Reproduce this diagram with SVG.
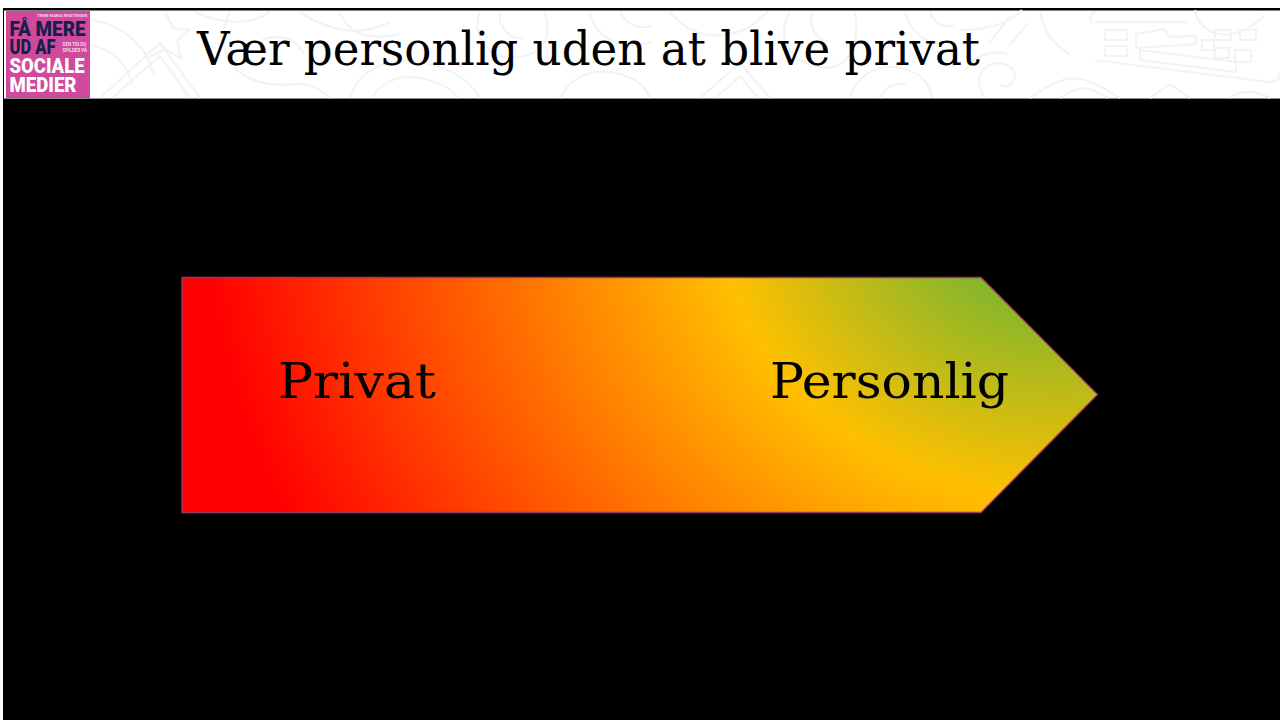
<svg xmlns="http://www.w3.org/2000/svg" width="1280" height="720" viewBox="0 0 1280 720">
<style>
.serif{font-family:"DejaVu Serif","Liberation Serif",serif;fill:#000}
.logo{font-family:"Roboto","Liberation Sans",sans-serif;font-weight:700}
.big{font-weight:900}
.pat{fill:none;stroke:#f2f4f3;stroke-width:2.2}
</style>
<defs>
<radialGradient id="g" gradientUnits="userSpaceOnUse" cx="0" cy="0" r="1" gradientTransform="translate(1060 200) scale(855 742)">
<stop offset=".139" stop-color="#84b62c"/>
<stop offset=".4" stop-color="#ffc000"/>
<stop offset="1" stop-color="#ff0000"/>
</radialGradient>
</defs>
<rect width="1280" height="720" fill="#fff"/>
<rect x="3" y="8" width="1277" height="712" fill="#000"/>
<g id="header">
<rect x="4" y="10.500" width="1276" height="87.500" fill="#fff"/>
<rect x="4" y="98" width="1276" height="1" fill="#8c8c8c"/>
<g class="pat">
<path d="M92 20c30 5 55 25 62 55M92 45c20 5 35 18 40 40M165 12l8 16 16 2-12 11 4 17-16-9-15 8M100 98l60-55 40 55M112 98l48-42 30 42"/>
<path d="M195 12c25 12 55 14 75 0M230 12c-15 30-5 60 30 70s40-10 70 16M262 40c20-8 35 0 42 14M300 12c30 20 60 25 90 10M340 12c6 20 30 30 60 22M350 98c8-28 38-42 70-36s50 18 60 36M372 98c8-16 28-24 48-20s32 10 38 20"/>
<path d="M480 12c-10 25 10 50 40 45s30-25 25-45M500 12c-2 16 10 28 24 26M560 98c10-20 30-30 55-25s30 15 35 25M590 12c4 24 30 40 62 30M620 12c6 12 18 18 32 14"/>
<path d="M670 12c20 25 50 30 80 15l18-15M700 98l40-35 30 35M716 98l24-22 18 22M790 12c-15 25 0 50 30 55s40-25 35-55M812 12c-4 14 4 28 16 30M850 98c5-20 25-35 50-30s30 18 32 30M880 98c4-10 14-16 26-14"/>
<path d="M905 12c5 22 25 36 50 30M930 12c4 10 12 16 24 14M960 30c30 0 50-8 62-20M985 98c-16-24 5-42 24-32 13 8 2 26-9 19M965 70c10-15 26-20 42-16M1010 45l18-22M990 42l20-26M1030 98c40-28 52-24 90 0M1060 98c20-14 30-12 48 0M1040 12c4 20 14 34 30 42"/>
<path d="M1095 22h92M1095 60l175 22c8 0 10-4 10-10M1092 24c-3-8-2-10 4-12M1105 30h22v10h-22zM1105 46h22v10h-22zM1136 34l28-5 6 8 26-1v8l-60 4zM1140 50l96 12v10l-96-12zM1215 30h16v10h-16zM1240 30h16v10h-16zM1235 50h16v12h-16zM1215 48h14v10h-14zM1202 40h12v10h-12zM1195 10c5 28 40 35 70 5M1150 98l20-14 20 14M1230 98c10-8 25-8 40 0"/>
</g>
</g>
<g id="logo">
<rect x="6" y="11" width="84" height="87" fill="#cf4a9c"/>
<text class="logo" x="37" y="16.500" font-size="4" fill="#f5d5e8">TRINE-MARIA KRISTENSEN</text>
<text class="logo big" x="9.500" y="36" font-size="21" fill="#14204a" textLength="76" lengthAdjust="spacingAndGlyphs">FÅ MERE</text>
<text class="logo big" x="9.500" y="54" font-size="21" fill="#14204a" textLength="46" lengthAdjust="spacingAndGlyphs">UD AF</text>
<text class="logo" x="62.500" y="46" font-size="4.500" fill="#f5d5e8">DEN TID DU</text>
<text class="logo" x="62.500" y="51.500" font-size="4.500" fill="#f5d5e8">SPILDER PÅ</text>
<text class="logo big" x="9.500" y="73" font-size="21" fill="#fff" textLength="75" lengthAdjust="spacingAndGlyphs">SOCIALE</text>
<text class="logo big" x="9.500" y="92" font-size="21" fill="#fff" textLength="67" lengthAdjust="spacingAndGlyphs">MEDIER</text>
</g>
<g id="title">
<text class="serif" x="197" y="65" font-size="46" textLength="783" lengthAdjust="spacingAndGlyphs">Vær personlig uden at blive privat</text>
</g>
<g id="arrow">
<path d="M182 277.500H981L1097.500 394.500 981 512.500H182Z" fill="url(#g)" stroke="#a0376a" stroke-width="1.300"/>
<text class="serif" x="278" y="398" font-size="49" textLength="158" lengthAdjust="spacingAndGlyphs">Privat</text>
<text class="serif" x="770" y="398" font-size="49" textLength="239" lengthAdjust="spacingAndGlyphs">Personlig</text>
</g>
</svg>
